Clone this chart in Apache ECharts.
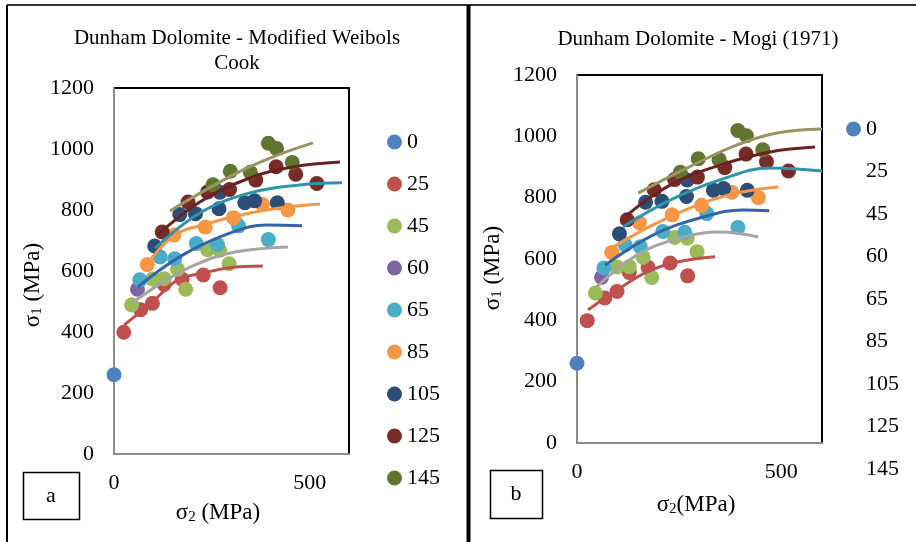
<!DOCTYPE html>
<html>
<head>
<meta charset="utf-8">
<script src="https://cdn.jsdelivr.net/npm/echarts@6.0.0/dist/echarts.min.js"></script>
<style>
  html, body { margin: 0; padding: 0; background: #fff; }
  #chart { width: 916px; height: 542px; }
</style>
</head>
<body>
<div id="chart"></div>
<script>
// confining pressure groups (sigma3, MPa)
const categories = ['0', '25', '45', '60', '65', '85', '105', '125', '145']

// test points [sigma2, sigma1] (same in both panels)
const s0 = [[0, 260]]
const s25 = [[25, 399], [68, 473], [98, 494], [128, 556], [174, 573], [228, 587], [271, 545]]
const s45 = [[45, 489], [98, 574], [128, 575], [162, 606], [183, 540], [239, 670], [270, 668], [294, 624]]
const s60 = [[60, 540]]
const s65 = [[66, 571], [118, 646], [155, 640], [210, 690], [264, 687], [318, 748], [394, 703]]
const s85 = [[85, 621], [153, 718], [233, 744], [305, 775], [379, 818], [444, 800]]
const s105 = [[104, 682], [168, 785], [208, 788], [268, 804], [270, 858], [334, 824], [359, 830], [417, 824]]
const s125 = [[123, 728], [189, 826], [239, 859], [295, 867], [362, 898], [414, 942], [464, 917], [518, 887]]
const s145 = [[253, 883], [297, 927], [348, 924], [394, 1019], [415, 1002], [455, 956]]
const points = [s0, s25, s45, s60, s65, s85, s105, s125, s145]

// fitted curves, panel a (Modified Weibols-Cook)
const wc25 = [[26, 423], [97, 497], [163, 571], [227, 593], [291, 610], [380, 616]]
const wc45 = [[46, 495], [122, 561], [207, 620], [309, 662], [444, 679]]
const wc65 = [[61, 548], [176, 653], [304, 728], [390, 751], [480, 748]]
const wc85 = [[84, 620], [151, 715], [227, 751], [347, 790], [441, 810], [526, 820]]
const wc105 = [[105, 675], [219, 790], [347, 856], [474, 882], [582, 889]]
const wc125 = [[112, 718], [219, 826], [347, 905], [457, 941], [577, 957]]
const wc145 = [[143, 797], [304, 915], [406, 974], [508, 1020]]

// fitted curves, panel b (Mogi 1971)
const mg25 = [[27, 434], [98, 499], [172, 558], [245, 590], [338, 607]]
const mg45 = [[49, 510], [147, 613], [252, 668], [350, 688], [444, 672]]
const mg65 = [[69, 580], [186, 678], [309, 737], [407, 760], [471, 757]]
const mg85 = [[76, 629], [186, 711], [309, 783], [407, 819], [493, 835]]
const mg105 = [[113, 705], [228, 792], [350, 858], [473, 897], [600, 887]]
const mg125 = [[123, 744], [228, 841], [350, 906], [473, 949], [583, 965]]
const mg145 = [[150, 815], [270, 897], [392, 972], [490, 1011], [600, 1024]]

// axis ticks
const xTicks = [0, 500]
const yTicks = [0, 200, 400, 600, 800, 1000, 1200]

const FONT = '"Liberation Serif", "Times New Roman", serif'
const dotColors = ['#4F81BD', '#C0504D', '#9BBB59', '#8064A2', '#4BACC6', '#F79646', '#2C4D75', '#772C2A', '#5F7530']
const curveColors = ['#C0504D', '#A5A5A5', '#3465A8', '#F79646', '#2E93AC', '#6B2322', '#9C9460']
const curveNames = ['25', '45', '65', '85', '105', '125', '145']

const chart = echarts.init(document.getElementById('chart'), null, { renderer: 'canvas' })

function makeAxes(idx) {
  const x = {
    type: 'value', gridIndex: idx, min: 0, max: 600, interval: xTicks[1] - xTicks[0],
    splitLine: { show: false }, axisTick: { show: false },
    axisLine: { onZero: false, lineStyle: { color: '#8c8c8c', width: 2 } },
    axisLabel: { margin: 18, showMaxLabel: false, color: '#000', fontFamily: FONT, fontSize: 22, formatter: v => String(v) }
  }
  const y = {
    type: 'value', gridIndex: idx, min: 0, max: yTicks[yTicks.length - 1], interval: yTicks[1] - yTicks[0],
    splitLine: { show: false }, axisTick: { show: false },
    axisLine: { show: true, onZero: false, lineStyle: { color: '#8c8c8c', width: 2 } },
    axisLabel: { margin: 20, color: '#000', fontFamily: FONT, fontSize: 22, formatter: v => String(v) }
  }
  return [x, y]
}

const axesA = makeAxes(0)
const axesB = makeAxes(1)

const series = []
;[0, 1].forEach(g => {
  points.forEach((d, i) => {
    series.push({
      name: categories[i], type: 'scatter', xAxisIndex: g, yAxisIndex: g,
      symbolSize: 15, itemStyle: { color: dotColors[i], opacity: 1 }, data: d
    })
  })
  const curves = g === 0 ? [wc25, wc45, wc65, wc85, wc105, wc125, wc145] : [mg25, mg45, mg65, mg85, mg105, mg125, mg145]
  curves.forEach((d, i) => {
    series.push({
      name: 'fit ' + curveNames[i], type: 'line', xAxisIndex: g, yAxisIndex: g,
      smooth: 0.4, showSymbol: false, silent: true,
      lineStyle: { color: curveColors[i], width: 3 }, data: d
    })
  })
})

const legendText = { fontFamily: FONT, fontSize: 22, lineHeight: 20, color: '#000' }
const richLabel = {
  m: { fontFamily: FONT, fontSize: 23, lineHeight: 24, fill: '#000' },
  s: { fontFamily: FONT, fontSize: 15, lineHeight: 15, verticalAlign: 'bottom', fill: '#000' }
}
const titleStyle = { fontFamily: FONT, fontSize: 21, align: 'center', verticalAlign: 'middle', fill: '#000' }

const options = {
  backgroundColor: '#fff',
  animation: false,
  grid: [
    { left: 114, top: 88, width: 235, height: 366, show: true, borderColor: '#000', borderWidth: 2, backgroundColor: '#fff' },
    { left: 577, top: 75, width: 245, height: 368, show: true, borderColor: '#000', borderWidth: 2, backgroundColor: '#fff' }
  ],
  xAxis: [axesA[0], axesB[0]],
  yAxis: [axesA[1], axesB[1]],
  legend: [
    {
      orient: 'vertical', left: 382, top: 126, itemWidth: 15, itemHeight: 15, itemGap: 20,
      icon: 'circle', textStyle: legendText, selectedMode: false, data: categories
    },
    {
      orient: 'vertical', left: 841, top: 113, itemWidth: 15, itemHeight: 15, itemGap: 20.5,
      icon: 'circle', textStyle: legendText, selectedMode: false,
      data: categories.map((c, i) => i === 0 ? c : { name: c, itemStyle: { color: 'rgba(0,0,0,0)', opacity: 0 } })
    }
  ],
  graphic: [
    // panel frames
    { type: 'line', shape: { x1: 7, y1: 5, x2: 916, y2: 5 }, style: { stroke: '#333', lineWidth: 2 } },
    { type: 'line', shape: { x1: 7, y1: 5, x2: 7, y2: 542 }, style: { stroke: '#000', lineWidth: 2 } },
    { type: 'line', shape: { x1: 468.5, y1: 5, x2: 468.5, y2: 542 }, style: { stroke: '#000', lineWidth: 4 } },
    // titles
    { type: 'text', x: 237, y: 38, style: Object.assign({ text: 'Dunham Dolomite - Modified Weibols' }, titleStyle) },
    { type: 'text', x: 237, y: 63, style: Object.assign({ text: 'Cook' }, titleStyle) },
    { type: 'text', x: 698, y: 39, style: Object.assign({ text: 'Dunham Dolomite - Mogi (1971)' }, titleStyle) },
    // axis titles
    { type: 'text', x: 218, y: 513, style: { text: '{m|σ}{s|2}{m| (MPa)}', rich: richLabel, align: 'center', verticalAlign: 'middle' } },
    { type: 'text', x: 696, y: 505, style: { text: '{m|σ}{s|2}{m|(MPa)}', rich: richLabel, align: 'center', verticalAlign: 'middle' } },
    { type: 'text', x: 33, y: 285, rotation: Math.PI / 2, style: { text: '{m|σ}{s|1}{m| (MPa)}', rich: richLabel, align: 'center', verticalAlign: 'middle' } },
    { type: 'text', x: 493, y: 268, rotation: Math.PI / 2, style: { text: '{m|σ}{s|1}{m| (MPa)}', rich: richLabel, align: 'center', verticalAlign: 'middle' } },
    // panel tags
    { type: 'rect', shape: { x: 23.5, y: 472.5, width: 56, height: 47 }, style: { fill: '#fff', stroke: '#000', lineWidth: 1.5 } },
    { type: 'text', x: 51, y: 496, style: { text: 'a', fontFamily: FONT, fontSize: 22, align: 'center', verticalAlign: 'middle', fill: '#000' } },
    { type: 'rect', shape: { x: 490.5, y: 470.5, width: 52, height: 48 }, style: { fill: '#fff', stroke: '#000', lineWidth: 1.5 } },
    { type: 'text', x: 516, y: 494, style: { text: 'b', fontFamily: FONT, fontSize: 22, align: 'center', verticalAlign: 'middle', fill: '#000' } }
  ],
  series: series
}

chart.setOption(options)
</script>
</body>
</html>
